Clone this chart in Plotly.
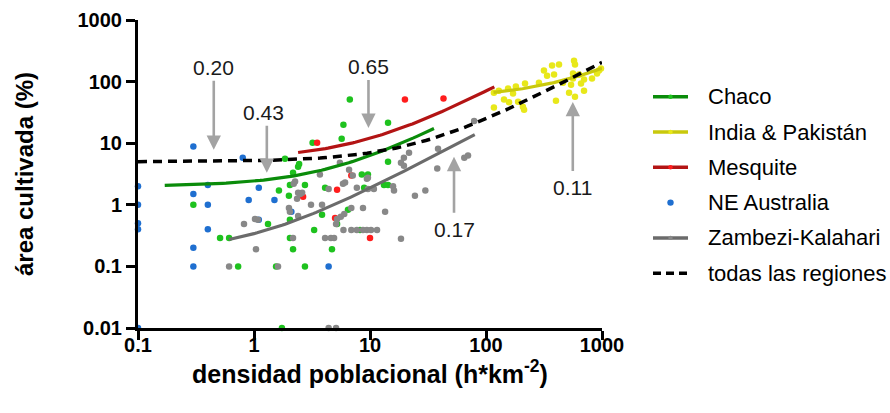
import numpy as np
import plotly.graph_objects as go

FONT = "Liberation Sans, Arial, sans-serif"
NBSP = "\u00a0"

# ---- point data: population density (h/km2) vs cultivated area (%) ----
chaco_x = [6.7, 5.9, 5.7, 3.2, 14.3, 1.85, 2.4, 2.45, 2.17, 1.64, 2.04, 2.75, 4.1,
           8.5, 9.6, 8.9, 14.3, 13.2, 14.3, 0.3, 1.32, 2.04, 3.3, 0.51, 0.61, 2.04,
           2.17, 4.7, 0.73, 1.55, 2.75, 3.86, 5.2, 6.46, 8.2, 1.74, 2.0]
chaco_y = [51, 20, 11.8, 10.2, 21.5, 5.6, 4.15, 4.6, 3.3, 1.7, 2.1, 2.1, 1.9,
           3.1, 3.1, 1.9, 5.0, 2.1, 2.1, 1.0, 0.49, 0.57, 0.39, 0.29, 0.29, 0.29,
           0.19, 0.19, 0.1, 0.1, 0.1, 0.69, 0.49, 0.83, 0.39, 0.01, 1.4]

india_x = [371, 426, 574, 585, 316, 336, 386, 217, 181, 286, 461, 562, 634, 700,
           820, 906, 942, 541, 659, 520, 585, 700, 401, 155, 143, 158, 189, 117,
           208, 213, 129, 171, 562, 980, 117]
india_y = [182, 189, 219, 189, 151, 125, 130, 93, 83, 96, 96, 135, 130, 108,
           112, 135, 151, 89, 93, 66, 57, 71, 49, 77, 51, 46, 47, 38,
           39, 35, 71, 64, 112, 163, 66]

mesquite_x = [20, 43, 3.5, 6.9, 5.2, 2.65, 5.0, 10]
mesquite_y = [51, 53, 10.2, 3.0, 1.75, 1.35, 0.61, 0.29]

australia_x = [0.3, 0.8, 0.1, 0.4, 0.3, 1.1, 0.9, 1.5, 0.1, 0.4, 0.1, 0.1, 1.1,
               0.4, 0.3, 0.3, 4.4, 2.1, 0.1]
australia_y = [8.8, 5.8, 2.0, 2.1, 1.5, 1.9, 1.2, 1.2, 1.0, 1.0, 0.5, 0.4, 0.57,
               0.4, 0.2, 0.1, 0.1, 0.77, 0.01]

zambezi_x = [79, 70, 65, 38, 30, 38.6, 21.7, 19.6, 18.5, 19.6, 15.8, 16.1, 10.8,
             7.7, 6.1, 6.6, 5.5, 7.1, 9.4, 3.7, 4.4, 5.85, 2.26, 2.2, 2.4, 2.6,
             2.35, 2.5, 3.1, 3.86, 2.0, 2.04, 2.4, 0.82, 1.02, 1.08, 2.17, 4.1,
             4.6, 1.04, 0.61, 1.61, 6.9, 8.7, 13.5, 5.2, 5.6, 6.0, 5.9, 6.9, 7.7,
             8.7, 9.4, 10.2, 11.5, 4.9, 18.5, 24.4, 5.1, 9.6, 4.4, 5.1, 9.6]
zambezi_y = [23, 6.3, 5.8, 3.9, 1.7, 8.1, 7.0, 5.8, 4.8, 4.3, 2.0, 1.7, 1.8,
             1.9, 2.3, 3.7, 4.8, 3.0, 2.65, 3.1, 1.8, 2.2, 2.4, 2.2, 1.57, 1.57,
             1.25, 1.5, 1.0, 1.0, 0.89, 0.77, 0.66, 0.49, 0.59, 0.57, 0.29, 0.29,
             0.29, 0.19, 0.1, 0.1, 0.89, 0.89, 0.77, 0.59, 0.64, 0.71, 0.39, 0.39, 0.39,
             0.39, 0.39, 0.39, 0.39, 0.29, 0.28, 1.4, 0.49, 1.8, 0.01, 0.01, 2.75]

# ---- linear fits y = a + b*x (b = slope printed on the chart) ----
fit_names = ["Chaco", "India & Pakistán", "Mesquite", "Zambezi-Kalahari", "todas las regiones"]
fit_slope = [0.43, 0.11, 0.65, 0.17, 0.20]
fit_intercept = [2.0, 54.0, 5.5, 0.17, 5.0]
fit_xmin = [0.17, 116, 2.4, 0.61, 0.1]
fit_xmax = [35.6, 1000, 118, 80, 1000]

# slope labels, each with an arrow pointing at its fit line
label_text = ["0.20", "0.43", "0.65", "0.17", "0.11"]
arrow_x = [0.45, 1.29, 9.7, 53, 560]
arrow_y = [7.8, 3.3, 17.7, 6.0, 46.7]

legend_labels = ["Chaco", "India & Pakistán", "Mesquite", "NE Australia",
                 "Zambezi-Kalahari", "todas las regiones"]

point_colors = {"Chaco": "#1ec21e", "India & Pakistán": "#e8e81a", "Mesquite": "#ff1c1c",
                "NE Australia": "#1f6fd0", "Zambezi-Kalahari": "#888888"}
line_colors = {"Chaco": "#0a8c0a", "India & Pakistán": "#c9c90c", "Mesquite": "#b31414",
               "Zambezi-Kalahari": "#6b6b6b", "todas las regiones": "#000000"}

# plot-area geometry (px) used to place the hand-built legend
PLOT_L, PLOT_R, PLOT_T, PLOT_B = 138, 602, 20, 328


def px_to_paper(px, py):
    return ((px - PLOT_L) / (PLOT_R - PLOT_L), (PLOT_B - py) / (PLOT_B - PLOT_T))


fig = go.Figure()

points = [("Chaco", chaco_x, chaco_y), ("India & Pakistán", india_x, india_y),
          ("Mesquite", mesquite_x, mesquite_y), ("NE Australia", australia_x, australia_y),
          ("Zambezi-Kalahari", zambezi_x, zambezi_y)]

for name, xs, ys in points:
    fig.add_trace(go.Scatter(
        x=xs, y=ys, mode="markers", name=name,
        marker=dict(size=6.5, color=point_colors[name]),
        cliponaxis=False, showlegend=False,
    ))

for name, b, a, x0, x1 in zip(fit_names, fit_slope, fit_intercept, fit_xmin, fit_xmax):
    xs = np.geomspace(x0, x1, 80)
    ys = a + b * xs
    dashed = name == "todas las regiones"
    fig.add_trace(go.Scatter(
        x=xs, y=ys, mode="lines", name=name + " (ajuste)",
        line=dict(color=line_colors[name], width=3.5 if dashed else 3.2,
                  dash="9px,6px" if dashed else "solid"),
        showlegend=False,
    ))

# (text offset from arrow tip in px, extra gap at the arrow tail)
label_offset = [(0, -82), (0, -60), (0, -61), (0, 73), (0, 86)]
label_gap = [0, 0, 0, 4, 4]
label_pad = ["", NBSP, "", "", ""]

annotations = []
for t, tx, ty, (dx, dy), gap, pad in zip(label_text, arrow_x, arrow_y,
                                         label_offset, label_gap, label_pad):
    annotations.append(dict(
        x=np.log10(tx), y=np.log10(ty), xref="x", yref="y", text=t + pad,
        showarrow=True, ax=dx, ay=dy, arrowhead=2, arrowsize=1.1, arrowwidth=2.6,
        arrowcolor="#a3a3a3", standoff=0, startstandoff=gap,
        font=dict(family=FONT, size=21, color="#1a1a1a"),
    ))

# ---- legend: sample line (with centre dot) and label for each region ----
shapes = []
row_top, row_step = 96.7, 35.3
for i, name in enumerate(legend_labels):
    cy = row_top + i * row_step
    x0, y0 = px_to_paper(653, cy)
    x1, _ = px_to_paper(688, cy)
    xc, _ = px_to_paper(670.5, cy)
    if name in line_colors:
        dashed = name == "todas las regiones"
        shapes.append(dict(type="line", xref="paper", yref="paper", x0=x0, x1=x1,
                           y0=y0, y1=y0,
                           line=dict(color=line_colors[name], width=3.5,
                                     dash="8px,5px" if dashed else "solid")))
    if name in point_colors:
        r = 3.2 if name not in line_colors else 2.2
        rx = r / (PLOT_R - PLOT_L)
        ry = r / (PLOT_B - PLOT_T)
        shapes.append(dict(type="circle", xref="paper", yref="paper",
                           x0=xc - rx, x1=xc + rx, y0=y0 - ry, y1=y0 + ry,
                           fillcolor=point_colors[name], line=dict(width=0)))
    tx, _ = px_to_paper(706, cy)
    annotations.append(dict(x=tx, y=y0, xref="paper", yref="paper", text=name,
                            showarrow=False, xanchor="left", yanchor="middle",
                            font=dict(family=FONT, size=22, color="black")))

axis_common = dict(
    type="log", showline=True, linecolor="black", linewidth=3, mirror=False,
    ticks="outside", ticklen=9, tickwidth=3, tickcolor="black",
    showgrid=False, zeroline=False,
    tickfont=dict(family=FONT, size=20, color="black", weight="bold"),
)

fig.update_layout(
    width=890, height=413,
    margin=dict(l=PLOT_L, r=890 - PLOT_R, t=PLOT_T, b=413 - PLOT_B, autoexpand=False),
    paper_bgcolor="white", plot_bgcolor="white",
    font=dict(family=FONT, color="black"),
    xaxis=dict(axis_common, range=[-1, 3], ticklabelstandoff=-12,
               tickvals=[0.1, 1, 10, 100, 1000], ticktext=["0.1", "1", "10", "100", "1000"],
               title=dict(text="densidad poblacional (h*km<sup>-2</sup>)",
                          font=dict(family=FONT, size=25, weight="bold"), standoff=10)),
    yaxis=dict(axis_common, range=[-2, 3],
               tickvals=[0.01, 0.1, 1, 10, 100, 1000],
               ticktext=["0.01", "0.1", "1", "10", "100", "1000"],
               title=dict(text="área cultivada (%)",
                          font=dict(family=FONT, size=24, weight="bold"), standoff=38)),
    annotations=annotations,
    shapes=shapes,
    showlegend=False,
)

fig.write_html("out.html")
